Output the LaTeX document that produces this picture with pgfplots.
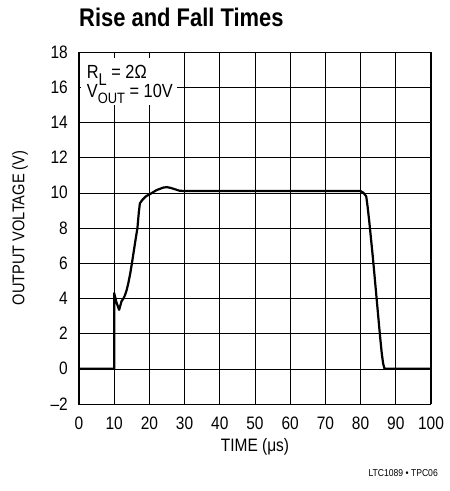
\documentclass[border=0pt]{standalone}
\usepackage{fontspec}
\setmainfont{Liberation Sans}[FakeStretch=0.86]
\usepackage{pgfplots}
\pgfplotsset{compat=1.18}
\begin{document}
\begin{tikzpicture}[x=1pt,y=1pt]
\useasboundingbox (-79,-87) rectangle (371,404);
\begin{axis}[
  at={(0,0)}, anchor=south west,
  scale only axis, width=352pt, height=352pt,
  xmin=0, xmax=100, ymin=-2, ymax=18,
  xtick={0,10,...,100}, ytick={-2,0,...,18},
  xticklabels={0,10,20,30,40,50,60,70,80,90,100},
  yticklabels={–2,0,2,4,6,8,10,12,14,16,18},
  grid=major, grid style={black, line width=0.6pt},
  major tick length=0pt,
  axis line style={black, line width=1pt},
  tick label style={font=\fontsize{18}{18}\selectfont, inner sep=0pt},
  xticklabel style={anchor=north, yshift=-13pt},
  yticklabel style={anchor=east, xshift=-11pt},
  clip=false,
]
\addplot[black, line width=2.2pt, line join=round] coordinates {
  (0,0)(10,0)(10,4.3)(10.6,3.8)(11.4,3.35)(12.1,3.85)(12.5,3.95)(13,4.15)
  (13.5,4.45)(14,4.85)(14.5,5.35)(15,5.95)(15.5,6.6)(16,7.25)(16.6,8.0)
  (17,8.9)(17.3,9.4)(18,9.6)(19,9.8)(20.2,9.93)(22,10.15)(24,10.3)
  (25,10.32)(26,10.28)(27.3,10.2)(28.5,10.12)(30,10.1)(80,10.1)(80.8,10.0)
  (81.6,9.8)(82,9.2)(82.5,8.3)(83,7.3)(83.5,6.3)(84,5.2)(84.5,4.1)(85,3.0)
  (85.5,1.9)(86,0.9)(86.4,0.3)(86.8,0)(100,0)
};
\fill[white] (axis cs:0.6,15.0) rectangle (axis cs:27.8,17.65);
\node[anchor=base west, font=\fontsize{19}{19}\selectfont, inner sep=0pt]
  at (axis cs:2.2,16.5) {R\raisebox{-7pt}{\fontsize{17}{17}\selectfont L} = 2Ω};
\node[anchor=base west, font=\fontsize{19}{19}\selectfont, inner sep=0pt]
  at (axis cs:2.2,15.4) {V\raisebox{-5.5pt}{\fontsize{15}{15}\selectfont OUT} = 10V};
\end{axis}
\node[anchor=base west, font=\bfseries\fontsize{25.5}{25.5}\selectfont, inner sep=0pt]
  at (0,377) {Rise and Fall Times};
\node[rotate=90, font=\fontsize{17}{17}\selectfont] at (-59,176) {OUTPUT VOLTAGE (V)};
\node[font=\fontsize{18}{18}\selectfont] at (176,-43) {TIME (μs)};
\node[anchor=base east, font=\fontsize{10}{10}\selectfont, inner sep=0pt]
  at (359,-72) {LTC1089 • TPC06};
\end{tikzpicture}
\end{document}
